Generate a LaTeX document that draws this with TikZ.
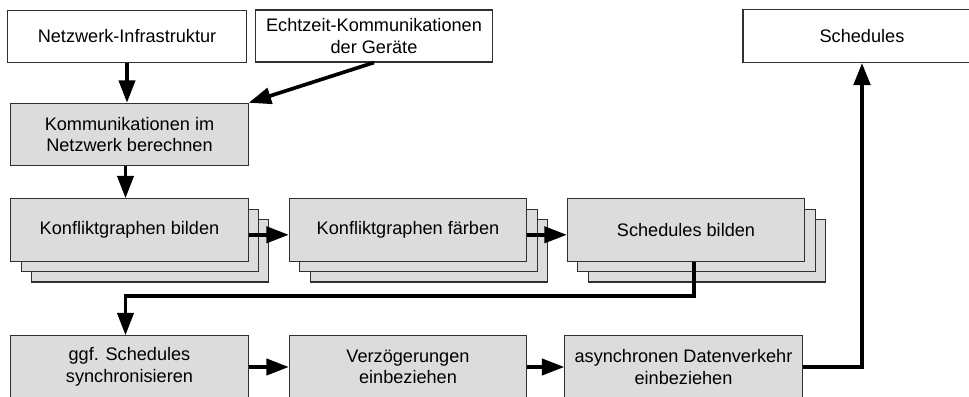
\documentclass[tikz,border=0pt]{standalone}
\usepackage{fontspec}
\setmainfont{Liberation Sans}
\usepackage{tikz}
\usetikzlibrary{arrows.meta, shadows}

\definecolor{boxgray}{HTML}{DCDCDC}
\definecolor{edgegray}{HTML}{303030}

\begin{document}
\begin{tikzpicture}[x=0.025cm, y=0.025cm,
		every node/.style={font=\fontsize{12.9}{15.4}\selectfont, align=center, inner sep=0pt},
		inbox/.style={draw=edgegray, line width=0.75pt, fill=white, minimum width=5.95cm, minimum height=1.31cm},
		stepbox/.style={draw=edgegray, line width=0.75pt, fill=boxgray, minimum width=5.93cm, minimum height=1.56cm},
		stackbox/.style={stepbox, double copy shadow={shadow xshift=0.26cm, shadow yshift=-0.26cm}},
		flow/.style={line width=2.6pt, -{Triangle[length=16pt,width=11.5pt]}}]
				% Canvas
				\useasboundingbox (0,0) rectangle (969,396);
				\clip (0,0) rectangle (969,396);
				
				% Inputs and result
				\node[inbox] (infra) at (127,359.5) {Netzwerk-Infrastruktur};
				\node[inbox, minimum width=5.9cm, minimum height=1.3cm] (echt) at (374,360) {Echtzeit-Kommunikationen\\der Geräte};
				\node[inbox] (sched) at (862,360) {Schedules};
				
				% Steps
				\node[stepbox] (komm) at (129.5,261.5) {Kommunikationen im\\Netzwerk berechnen};
				\node[stackbox] (kbild) at (129.5,166) {Konfliktgraphen bilden};
				\node[stackbox] (kfarb) at (408,166) {Konfliktgraphen färben};
				\node[stackbox] (sbild) at (686,166) {Schedules bilden};
				\node[stepbox] (sync) at (129.5,29) {ggf. Schedules\\synchronisieren};
				\node[stepbox] (delay) at (408,29) {Verzögerungen\\einbeziehen};
				\node[stepbox] (async) at (683.5,29) {asynchronen Datenverkehr\\einbeziehen};
				
				% Arrows
				\draw[flow] (infra.south) -- (infra.south |- komm.north);
				\draw[flow] (echt.south) -- (komm.north east);
				\draw[flow] ([xshift=-0.1cm]komm.south) -- ([xshift=-0.1cm]kbild.north);
				\draw[flow] ([yshift=-0.12cm]kbild.east) -- ([yshift=-0.12cm]kfarb.west);
				\draw[flow] ([yshift=-0.12cm]kfarb.east) -- ([yshift=-0.12cm]sbild.west);
				\draw[flow] ([xshift=0.2cm]sbild.south) -- ++(0,-34) -| ([xshift=-0.1cm]sync.north);
				\draw[flow] (sync) -- (delay);
				\draw[flow] (delay) -- (async);
				\draw[flow, line width=3.4pt] (async.east) -| (sched.south);
			\end{tikzpicture}
\end{document}
